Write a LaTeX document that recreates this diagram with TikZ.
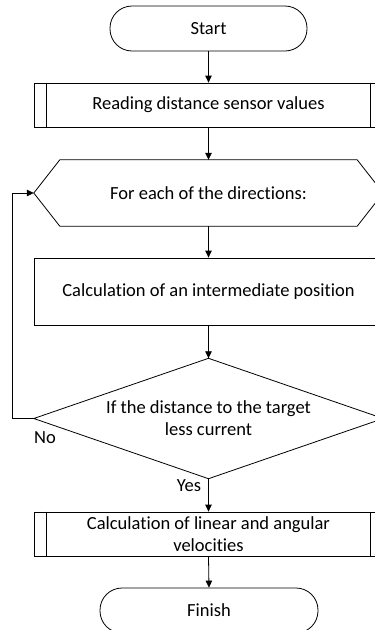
\documentclass[tikz,border=0pt]{standalone}
\usepackage{fontspec}
\setmainfont[Ligatures={NoCommon}]{Carlito}
\usetikzlibrary{arrows.meta}
\tikzset{
  base/.style={inner sep=0pt, align=center, font=\fontsize{18.5}{22}\selectfont},
  term/.style={base, draw, line width=0.8pt, rounded corners=22pt},
  procbox/.style={base, draw, line width=0.8pt},
  shapeonly/.style={base},
  conn/.style={line width=0.8pt, -{Triangle[length=7pt,width=6.5pt]}},
  plain/.style={line width=0.8pt},
  lbl/.style={base}
}
\begin{document}
\begin{tikzpicture}[x=1pt,y=-1pt]
\clip (0,0) rectangle (375,630);
\fill[white] (0,0) rectangle (375,630);

\node[term, minimum width=197pt, minimum height=45pt] (start) at (208.5,28.5) {Start};

\node[procbox, minimum width=349pt, minimum height=44pt] (read) at (208.5,105) {Reading distance sensor values};
\draw[plain] ([xshift=13pt]read.north west) -- ([xshift=13pt]read.south west);
\draw[plain] ([xshift=-13pt]read.north east) -- ([xshift=-13pt]read.south east);

\node[shapeonly, minimum width=349pt, minimum height=66pt] (loop) at (208.5,193) {For each of the directions:};
\draw[plain] (loop.west) -- ([xshift=26pt]loop.north west) -- ([xshift=-26pt]loop.north east)
  -- (loop.east) -- ([xshift=-26pt]loop.south east) -- ([xshift=26pt]loop.south west) -- cycle;

\node[procbox, minimum width=349pt, minimum height=67pt] (calc) at (208.5,291.5) {Calculation of an intermediate position};

\node[shapeonly, minimum width=349pt, minimum height=120pt] (dec) at (208.5,418.5) {If the distance to the target\\less current};
\draw[plain] (dec.north) -- (dec.east) -- (dec.south) -- (dec.west) -- cycle;

\node[procbox, minimum width=349pt, minimum height=44pt] (vel) at (208.5,534) {Calculation of linear and angular\\velocities};
\draw[plain] ([xshift=13pt]vel.north west) -- ([xshift=13pt]vel.south west);
\draw[plain] ([xshift=-13pt]vel.north east) -- ([xshift=-13pt]vel.south east);

\node[term, minimum width=218pt, minimum height=45pt] (fin) at (209,610.5) {Finish};

\draw[conn] (start.south) -- (read.north);
\draw[conn] (read.south) -- (loop.north);
\draw[conn] (loop.south) -- (calc.north);
\draw[conn] (calc.south) -- (dec.north);
\draw[conn] (dec.south) -- (vel.north);
\draw[conn] (vel.south) -- (fin.north);

\coordinate (lb) at (12,418.5);
\coordinate (lt) at (12,193);
\draw[plain] (dec.west) -- (lb) -- (lt);
\draw[conn] (lt) -- (loop.west);

\node[lbl] (no) at (45,438) {No};
\node[lbl] (yes) at (189,486) {Yes};
\end{tikzpicture}
\end{document}
